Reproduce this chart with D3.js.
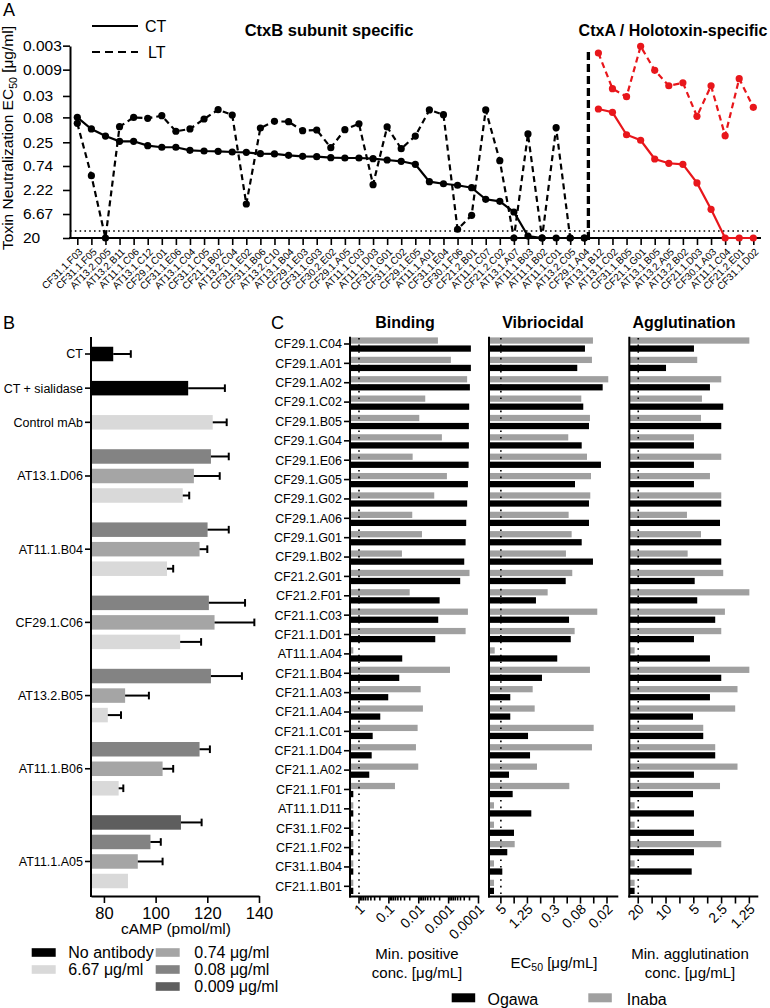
<!DOCTYPE html>
<html><head><meta charset="utf-8">
<script src="https://cdn.jsdelivr.net/npm/d3@7"></script>
<style>
body{margin:0;background:#fff}
svg{display:block;font-family:"Liberation Sans",Arial,Helvetica,sans-serif}
</style></head><body>
<svg id="chart" width="770" height="1008"></svg>
<script>
// ================= DATA =================
// Panel A: toxin neutralization EC50 (µg/ml)
const aCategories = ["CF31.1.F03","CF31.1.F05","AT13.2.D05","AT13.2.B11","AT11.1.C06","AT13.1.C12","CF29.1.C01","CF31.1.E06","AT13.1.C04","CF31.1.C05","CF21.1.B02","AT13.2.C04","CF31.1.E02","CF31.1.B06","AT13.2.C10","AT13.1.B04","CF29.1.E03","CF31.1.G03","CF30.2.E02","CF29.1.A05","AT11.1.C03","AT11.1.D03","CF31.1.G01","CF31.1.C02","CF29.1.E05","AT11.1.A01","CF31.1.E04","CF30.1.F06","CF21.2.B01","AT11.1.C07","CF21.2.C02","AT13.1.A07","AT11.1.B03","AT11.1.B02","AT11.1.C01","AT13.2.C05","CF29.1.A04","AT13.1.B12","AT13.1.C02","CF31.1.B05","CF21.1.G01","AT13.1.B05","AT13.2.A05","AT13.2.B02","CF21.1.D03","CF30.1.A03","AT11.1.C04","CF21.2.E01","CF31.1.D02"];
const aSubunitCount = 37; // first 37 = CtxB subunit specific, rest = CtxA / holotoxin
const aCT = [0.0797,0.136,0.188,0.239,0.239,0.292,0.314,0.314,0.361,0.373,0.378,0.39,0.396,0.422,0.427,0.454,0.475,0.484,0.507,0.514,0.514,0.53,0.563,0.597,0.685,1.52,1.67,1.79,2.0,3.4,3.73,6.08,18.3,20,20,20,20,
  0.0545,0.0634,0.177,0.228,0.538,0.654,0.685,1.61,5.38,20,20,20];
const aLT = [0.105,1.155,20,0.1226,0.08,0.0834,0.0741,0.151,0.136,0.0862,0.0563,0.0717,4.22,0.13,0.0958,0.0975,0.147,0.1426,0.32,0.1406,0.107,1.74,0.124,0.335,0.188,0.057,0.0708,13.4,7.07,0.057,0.581,20,0.171,20,0.128,20,20,
  0.0042,0.0215,0.031,0.0031,0.0093,0.0188,0.0164,0.0761,0.0188,0.185,0.0136,0.0504];
const aTicks = [0.003,0.009,0.03,0.08,0.25,0.74,2.22,6.67,20];
const aThreshold = 14.5;

// Panel B: cAMP (pmol/ml)
const bLabels = ["CT","CT + sialidase","Control mAb","AT13.1.D06","AT11.1.B04","CF29.1.C06","AT13.2.B05","AT11.1.B06","AT11.1.A05"];
const bDoses = [["none"],["none"],["6.67"],["0.08","0.74","6.67"],["0.08","0.74","6.67"],["0.08","0.74","6.67"],["0.08","0.74","6.67"],["0.08","0.74","6.67"],["0.009","0.08","0.74","6.67"]];
const bMeans = [[83.6],[112.6],[122.1],[121.4,114.8,110.5],[120.1,117.0,104.4],[120.6,122.8,109.5],[121.4,88.2,81.5],[117.0,102.7,85.7],[109.8,98.0,93.1,89.3]];
const bErrTop = [[90.4],[126.8],[127.5],[128.3,124.8,113.0],[128.3,120.0,106.8],[134.6,138.2,117.6],[133.4,97.4,86.6],[121.0,106.8,87.5],[117.8,102.0,102.7,null]];
const bTicks = [80,100,120,140];
const bLegendKeys = ["none","6.67","0.74","0.08","0.009"];
const bLegendText = ["No antibody","6.67 \u03bcg/ml","0.74 \u03bcg/ml","0.08 \u03bcg/ml","0.009 \u03bcg/ml"];

// Panel C
const cCategories = ["CF29.1.C04","CF29.1.A01","CF29.1.A02","CF29.1.C02","CF29.1.B05","CF29.1.G04","CF29.1.E06","CF29.1.G05","CF29.1.G02","CF29.1.A06","CF29.1.G01","CF29.1.B02","CF21.2.G01","CF21.2.F01","CF21.1.C03","CF21.1.D01","AT11.1.A04","CF21.1.B04","CF21.1.A03","CF21.1.A04","CF21.1.C01","CF21.1.D04","CF21.1.A02","CF21.1.F01","AT11.1.D11","CF31.1.F02","CF21.1.F02","CF31.1.B04","CF21.1.B01"];
const bindOgawa = [0.00018,0.00018,0.000194,0.000205,0.00021,0.00021,0.000214,0.000226,0.00024,0.000258,0.00027,0.0003,0.00041,0.002,0.00223,0.0028,0.0357,0.0449,0.105,0.194,0.348,0.376,0.453,1.55,1.55,1.55,1.55,1.55,1.55];
const bindInaba = [0.00228,0.00084,0.00024,0.00606,0.0096,0.00168,0.016,0.00114,0.00303,0.0165,0.0078,0.0365,0.0002,0.0201,0.000226,0.00027,1.55,0.0009,0.0086,0.00725,0.0109,0.0124,0.0104,0.0625,1.55,1.55,1.55,1.55,1.55];
const vibOgawa = [0.0618,0.0924,0.0245,0.0675,0.0501,0.0733,0.0268,0.104,0.0501,0.0501,0.0733,0.0407,0.169,0.8,0.142,0.13,0.263,0.584,3.06,3.06,1.21,1.09,3.27,2.7,1.02,2.52,3.58,4.64,7.16];
const vibInaba = [0.0407,0.0429,0.0183,0.0749,0.0476,0.148,0.0556,0.0451,0.0468,0.145,0.124,0.167,0.12,0.434,0.0325,0.106,6.9,0.0476,0.949,0.855,0.0392,0.0429,0.758,0.14,7.16,7.16,2.43,7.16,7.16];
const aggOgawa = [4.98,10,3.34,2.4,2.52,4.98,4.98,4.98,2.52,2.6,2.52,2.52,4.89,4.59,2.93,4.98,3.34,2.52,3.34,5.1,3.95,2.93,4.98,5.1,4.98,4.98,4.98,5.27,21.9];
const aggInaba = [1.25,4.59,2.52,4.08,4.18,4.98,2.52,3.34,2.52,5.93,4.18,5.83,2.4,1.25,2.3,2.52,21.9,1.25,1.68,1.78,3.95,2.93,1.68,2.6,21.9,21.9,2.52,21.9,21.9];
const bindTicks = [1,0.1,0.01,0.001,0.0001];
const bindTickLabels = ["1","0.1","0.01","0.001","0.0001"];
const vibTicks = [5,1.25,0.3125,0.078125,0.01953125];
const vibTickLabels = ["5","1.25","0.3","0.08","0.02"];
const aggTicks = [20,10,5,2.5,1.25];
const aggTickLabels = ["20","10","5","2.5","1.25"];
const cLimits = [1,5,20];

// ================= DRAW =================
const svg = d3.select("#chart");
const RED = "#e8161b";

function txt(g, x, y, s, size, opts={}) {
  const t = g.append("text").attr("x", x).attr("y", y).attr("font-size", size).attr("fill", "#000").text(s);
  if (opts.anchor) t.attr("text-anchor", opts.anchor);
  if (opts.bold) t.attr("font-weight", "bold");
  return t;
}

// ---------- Panel A ----------
const gA = svg.append("g");
const ax = d3.scalePoint().domain(d3.range(aCategories.length)).range([77.3, 753.3]);
const ay = d3.scaleLog().domain([20, 20/6561]).range([238, 46]);

txt(gA, 3, 16, "A", 18);

// threshold
gA.append("line").attr("x1", 70).attr("x2", 761).attr("y1", ay(aThreshold)).attr("y2", ay(aThreshold))
  .attr("stroke", "#000").attr("stroke-width", 1.6).attr("stroke-dasharray", "1.6,3.2");

// y axis
const yA = gA.append("g").attr("transform", "translate(70,0)")
  .call(d3.axisLeft(ay).tickValues(aTicks).tickFormat(d => String(d)).tickSize(7).tickSizeOuter(0));
yA.select(".domain").attr("stroke-width", 2);
yA.selectAll(".tick line").attr("stroke-width", 1.6);
yA.selectAll(".tick text").attr("x", -47).attr("text-anchor", "start").attr("font-size", 15.5).attr("font-family", null).attr("fill", "#000");

// x axis
const xA = gA.append("g").attr("transform", "translate(0,238)")
  .call(d3.axisBottom(ax).tickSize(7).tickSizeOuter(0).tickFormat(i => aCategories[i]));
xA.select(".domain").remove();
xA.selectAll(".tick line").attr("stroke-width", 1.6);
xA.selectAll(".tick text").attr("font-size", 10).attr("font-family", null).attr("fill", "#000")
  .attr("text-anchor", "end").attr("y", 0).attr("dy", "0.35em")
  .attr("transform", "translate(3,12) rotate(-45)");
gA.append("line").attr("x1", 69).attr("x2", 761).attr("y1", 238).attr("y2", 238).attr("stroke", "#000").attr("stroke-width", 2);

// y title
const yt = gA.append("text").attr("transform", "translate(13,138) rotate(-90)").attr("text-anchor", "middle").attr("font-size", 15.5);
yt.append("tspan").text("Toxin Neutralization EC");
yt.append("tspan").attr("font-size", 10.5).attr("dy", 4).text("50");
yt.append("tspan").attr("dy", -4).text(" [\u03bcg/ml]");

// separator
const sepX = ax(aSubunitCount - 1) + 0.29 * ax.step();
gA.append("line").attr("x1", sepX).attr("x2", sepX).attr("y1", 52).attr("y2", 243)
  .attr("stroke", "#000").attr("stroke-width", 3.3).attr("stroke-dasharray", "8,4");

// series
const lineGen = d3.line().x(d => ax(d.i)).y(d => ay(d.v));
function series(vals, i0, i1, color, dashed) {
  const pts = vals.slice(i0, i1).map((v, k) => ({i: i0 + k, v}));
  gA.append("path").attr("d", lineGen(pts)).attr("fill", "none").attr("stroke", color)
    .attr("stroke-width", 2.2).attr("stroke-dasharray", dashed ? "6,4" : null);
  gA.selectAll(null).data(pts).enter().append("circle")
    .attr("cx", d => ax(d.i)).attr("cy", d => ay(d.v)).attr("r", 3.6).attr("fill", color);
}
series(aCT, 0, aSubunitCount, "#000", false);
series(aLT, 0, aSubunitCount, "#000", true);
series(aCT, aSubunitCount, aCT.length, RED, false);
series(aLT, aSubunitCount, aLT.length, RED, true);

// legend
gA.append("line").attr("x1", 92).attr("x2", 138).attr("y1", 26).attr("y2", 26).attr("stroke", "#000").attr("stroke-width", 2.2);
txt(gA, 145, 32, "CT", 16);
gA.append("line").attr("x1", 92).attr("x2", 138).attr("y1", 52).attr("y2", 52).attr("stroke", "#000").attr("stroke-width", 2.2).attr("stroke-dasharray", "8,5");
txt(gA, 148, 58, "LT", 16);

txt(gA, 329, 36, "CtxB subunit specific", 16.5, {anchor: "middle", bold: true});
txt(gA, 673, 36, "CtxA / Holotoxin-specific", 16, {anchor: "middle", bold: true});

// ---------- Panel B ----------
const gB = svg.append("g");
txt(gB, 3, 329, "B", 18);
const bColor = {"none": "#000", "6.67": "#d9d9d9", "0.74": "#a5a5a5", "0.08": "#838383", "0.009": "#5e5e5e"};
const bx = d3.scaleLinear().domain([75, 140]).range([91, 259]);
const bSlots = [];
let slot = 0;
bMeans.forEach(vals => {
  const arr = vals.map((_, j) => slot + j);
  bSlots.push(arr);
  slot = arr[arr.length - 1] + 1.75;
});
const lastSlot = bSlots[bSlots.length - 1][bSlots[bSlots.length - 1].length - 1];
const by = d3.scaleLinear().domain([0, lastSlot]).range([354, 881]);
const bH = 14.5;

bMeans.forEach((vals, gi) => {
  vals.forEach((v, j) => {
    const yc = by(bSlots[gi][j]);
    gB.append("rect").attr("x", bx(75)).attr("y", yc - bH / 2).attr("width", bx(v) - bx(75)).attr("height", bH)
      .attr("fill", bColor[bDoses[gi][j]]);
    const e = bErrTop[gi][j];
    if (e != null) {
      gB.append("line").attr("x1", bx(v)).attr("x2", bx(e)).attr("y1", yc).attr("y2", yc).attr("stroke", "#000").attr("stroke-width", 2);
      gB.append("line").attr("x1", bx(e)).attr("x2", bx(e)).attr("y1", yc - 3.8).attr("y2", yc + 3.8).attr("stroke", "#000").attr("stroke-width", 2);
    }
  });
  const ly = by(bSlots[gi][Math.floor(vals.length / 2)]);
  gB.append("line").attr("x1", 85).attr("x2", 91).attr("y1", ly).attr("y2", ly).attr("stroke", "#000").attr("stroke-width", 1.6);
  txt(gB, 83, ly, bLabels[gi], 12.5, {anchor: "end"}).attr("dy", "0.35em");
});
gB.append("line").attr("x1", 91).attr("x2", 91).attr("y1", 337).attr("y2", 897).attr("stroke", "#000").attr("stroke-width", 2);
const xB = gB.append("g").attr("transform", "translate(0,896)")
  .call(d3.axisBottom(bx).tickValues(bTicks).tickSize(7).tickSizeOuter(0));
xB.select(".domain").attr("stroke-width", 2);
xB.selectAll(".tick line").attr("stroke-width", 1.6);
xB.selectAll(".tick text").attr("font-size", 16.5).attr("font-family", null).attr("fill", "#000").attr("y", 11);
txt(gB, 176, 934, "cAMP (pmol/ml)", 15.5, {anchor: "middle"});

// legend B
const bLegPos = [[31.7, 952.5], [31.7, 969.5], [155.7, 952.5], [155.7, 969.5], [155.7, 986.5]];
bLegendKeys.forEach((k, i) => {
  const [lx, lyc] = bLegPos[i];
  gB.append("rect").attr("x", lx).attr("y", lyc - 4.3).attr("width", 24).attr("height", 8.6).attr("fill", bColor[k]);
  txt(gB, lx + (i < 2 ? 36.6 : 38.6), lyc + 5.8, bLegendText[i], 16);
});

// ---------- Panel C ----------
const gC = svg.append("g");
txt(gC, 271, 329, "C", 18);
const cy = d3.scaleBand().domain(d3.range(cCategories.length)).range([334.3, 896]);
const sub = d3.scaleBand().domain(["Inaba", "Ogawa"]).range([3.1, 17.4]).paddingInner(0.22);
const cColor = {Ogawa: "#000", Inaba: "#a0a0a0"};
const cAxisBottom = 896.5;

const panels = [
  {title: "Binding", tx: 405, x0: 350, x1: 479.3, scale: d3.scaleLog().domain([2, 0.0001]).range([350, 478.5]),
   ogawa: bindOgawa, inaba: bindInaba, ticks: bindTicks, labels: bindTickLabels,
   minor: d3.range(-4, 1).flatMap(e => d3.range(2, 10).map(m => m * Math.pow(10, e - 1))).concat([2]),
   limit: cLimits[0], titleLines: ["Min. positive", "conc. [\u03bcg/mL]"], titleX: 417},
  {title: "Vibriocidal", tx: 543, x0: 489, x1: 618.3, scale: d3.scaleLog().domain([9.3, 0.011]).range([489, 618]),
   ogawa: vibOgawa, inaba: vibInaba, ticks: vibTicks, labels: vibTickLabels,
   minor: d3.range(1, 9, 2).map(k => 5 / Math.pow(2, k)),
   limit: cLimits[1], titleLines: null, titleX: 554},
  {title: "Agglutination", tx: 684, x0: 629.3, x1: 758.3, scale: d3.scaleLog().domain([25, 1]).range([629.3, 758.3]),
   ogawa: aggOgawa, inaba: aggInaba, ticks: aggTicks, labels: aggTickLabels,
   minor: d3.range(1, 9, 2).map(k => 20 / Math.pow(2, k / 2)),
   limit: cLimits[2], titleLines: ["Min. agglutination", "conc. [\u03bcg/mL]"], titleX: 690},
];

panels.forEach((p, pi) => {
  const g = gC.append("g");
  txt(g, p.tx, 327.5, p.title, 16, {anchor: "middle", bold: true});
  // bars
  ["Inaba", "Ogawa"].forEach(sname => {
    const vals = sname === "Ogawa" ? p.ogawa : p.inaba;
    g.selectAll(null).data(vals).enter().append("rect")
      .attr("x", p.x0).attr("y", (d, i) => cy(i) + sub(sname))
      .attr("width", d => Math.max(0, p.scale(d) - p.x0)).attr("height", sub.bandwidth())
      .attr("fill", cColor[sname]);
  });
  // limit dotted line
  g.append("line").attr("x1", p.scale(p.limit)).attr("x2", p.scale(p.limit)).attr("y1", 338).attr("y2", 896)
    .attr("stroke", "#000").attr("stroke-width", 1.6).attr("stroke-dasharray", "1.6,5");
  // y axis
  g.append("line").attr("x1", p.x0).attr("x2", p.x0).attr("y1", 336.7).attr("y2", cAxisBottom + 1).attr("stroke", "#000").attr("stroke-width", 2);
  if (pi === 0) {
    cCategories.forEach((c, i) => {
      const yc = cy(i) + cy.bandwidth() / 2;
      g.append("line").attr("x1", p.x0 - 6).attr("x2", p.x0).attr("y1", yc).attr("y2", yc).attr("stroke", "#000").attr("stroke-width", 1.6);
      txt(g, p.x0 - 8, yc, c, 12.5, {anchor: "end"}).attr("dy", "0.35em");
    });
  }
  // x axis
  g.append("line").attr("x1", p.x0 - 1).attr("x2", p.x1).attr("y1", cAxisBottom).attr("y2", cAxisBottom).attr("stroke", "#000").attr("stroke-width", 2);
  p.minor.filter(v => p.scale(v) >= p.x0 + 0.5 && p.scale(v) <= p.x1).forEach(v => {
    g.append("line").attr("x1", p.scale(v)).attr("x2", p.scale(v)).attr("y1", cAxisBottom).attr("y2", cAxisBottom + (pi === 0 ? 4 : 7))
      .attr("stroke", "#000").attr("stroke-width", 1.6);
  });
  p.ticks.forEach((v, k) => {
    const x = p.scale(v);
    g.append("line").attr("x1", x).attr("x2", x).attr("y1", cAxisBottom).attr("y2", cAxisBottom + 7).attr("stroke", "#000").attr("stroke-width", 1.6);
    g.append("text").attr("transform", `translate(${x + 3},${cAxisBottom + 10}) rotate(-45)`)
      .attr("text-anchor", "end").attr("dy", "0.35em").attr("font-size", 14).text(p.labels[k]);
  });
  // title
  if (p.titleLines) {
    txt(g, p.titleX, 959, p.titleLines[0], 15, {anchor: "middle"});
    txt(g, p.titleX, 978, p.titleLines[1], 15, {anchor: "middle"});
  } else {
    const t = g.append("text").attr("x", p.titleX).attr("y", 968).attr("text-anchor", "middle").attr("font-size", 15);
    t.append("tspan").text("EC");
    t.append("tspan").attr("font-size", 10.5).attr("dy", 3).text("50");
    t.append("tspan").attr("dy", -3).text(" [\u03bcg/mL]");
  }
});

// legend C
gC.append("rect").attr("x", 451.7).attr("y", 993.3).attr("width", 23.5).attr("height", 9).attr("fill", cColor.Ogawa);
txt(gC, 487.5, 1005, "Ogawa", 16);
gC.append("rect").attr("x", 588.3).attr("y", 993.3).attr("width", 23.5).attr("height", 9).attr("fill", cColor.Inaba);
txt(gC, 626.7, 1005, "Inaba", 16);
</script>
</body></html>
